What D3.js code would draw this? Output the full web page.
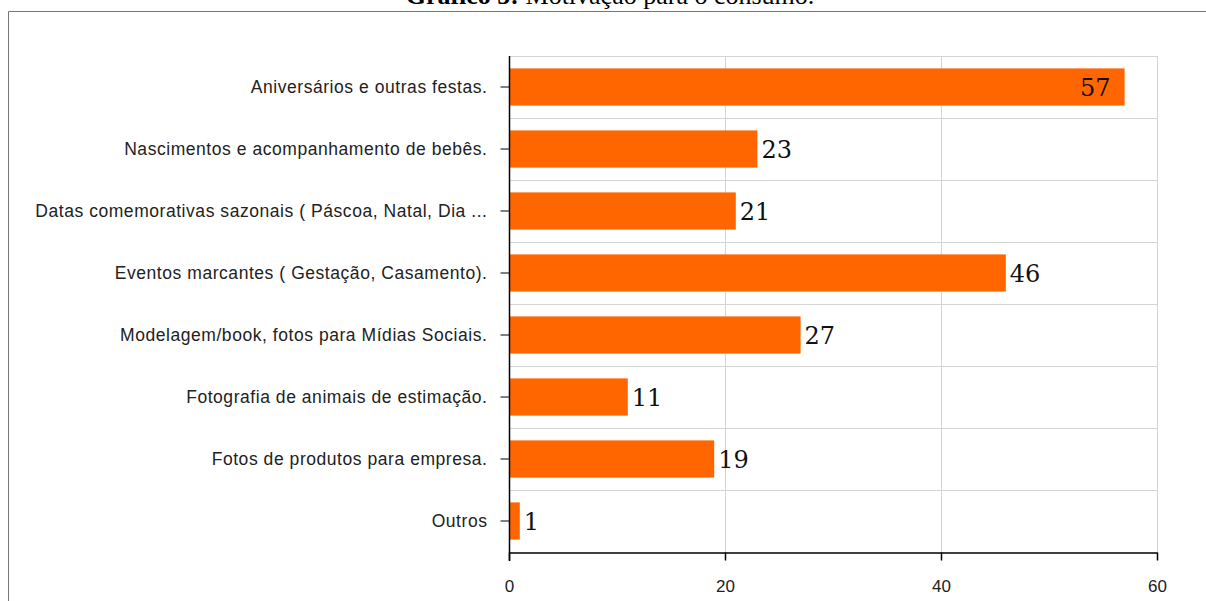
<!DOCTYPE html>
<html>
<head>
<meta charset="utf-8">
<script src="https://cdn.jsdelivr.net/npm/d3@7"></script>
<style>
  body { margin: 0; background: #fff; }
  svg { display: block; }
</style>
</head>
<body>
<div id="chart"></div>
<script>
const categories = [
  'Aniversários e outras festas.',
  'Nascimentos e acompanhamento de bebês.',
  'Datas comemorativas sazonais ( Páscoa, Natal, Dia ...',
  'Eventos marcantes ( Gestação, Casamento).',
  'Modelagem/book, fotos para Mídias Sociais.',
  'Fotografia de animais de estimação.',
  'Fotos de produtos para empresa.',
  'Outros'
];
const values = [57, 23, 21, 46, 27, 11, 19, 1];
const xTicks = [0, 20, 40, 60];

const W = 1206;
const H = 601;
const margin = { top: 56, right: 49, bottom: 49, left: 509 };

const svg = d3.select('#chart').append('svg')
  .attr('width', W)
  .attr('height', H);

// caption, cut off at the top edge like in the source picture
const cap = svg.append('text')
  .attr('x', 610)
  .attr('y', 4)
  .attr('text-anchor', 'middle')
  .style('font-family', '"Liberation Serif", serif')
  .style('font-size', '26px')
  .attr('fill', '#000');
cap.append('tspan').style('font-weight', 'bold').text('Gráfico 5: ');
cap.append('tspan').text('Motivação para o consumo.');

// frame
svg.append('path')
  .attr('d', `M8.5,${H} V11.5 H${W}`)
  .attr('fill', 'none')
  .attr('stroke', '#777')
  .attr('stroke-width', 1);

const x = d3.scaleLinear().domain([0, 60]).range([margin.left, W - margin.right]);
const y = d3.scaleBand().domain(categories).range([margin.top, H - margin.bottom]).paddingInner(0.4).paddingOuter(0.2);

const g = svg.append('g');

// grid
g.selectAll('line.vgrid').data(xTicks.slice(1)).join('line')
  .attr('class', 'vgrid')
  .attr('x1', d => Math.round(x(d)) + 0.5).attr('x2', d => Math.round(x(d)) + 0.5)
  .attr('y1', margin.top).attr('y2', H - margin.bottom)
  .attr('stroke', '#d4d4d4');

g.selectAll('line.hgrid').data(categories).join('line')
  .attr('class', 'hgrid')
  .attr('x1', margin.left).attr('x2', x(60))
  .attr('y1', (d, i) => Math.round(margin.top + i * y.step()) + 0.5)
  .attr('y2', (d, i) => Math.round(margin.top + i * y.step()) + 0.5)
  .attr('stroke', '#d4d4d4');

// bars
g.selectAll('rect.bar').data(values).join('rect')
  .attr('class', 'bar')
  .attr('x', x(0))
  .attr('y', (d, i) => y(categories[i]))
  .attr('width', d => x(d) - x(0))
  .attr('height', y.bandwidth())
  .attr('fill', '#ff6600');

// value labels (the longest bar keeps its label inside)
g.selectAll('text.val').data(values).join('text')
  .attr('class', 'val')
  .attr('x', d => d > 50 ? x(d) - 14 : x(d) + 4)
  .attr('y', (d, i) => y(categories[i]) + y.bandwidth() / 2)
  .attr('dy', '0.36em')
  .attr('text-anchor', d => d > 50 ? 'end' : 'start')
  .style('font-family', '"DejaVu Serif", serif')
  .style('font-size', '24px')
  .attr('fill', '#111')
  .text(d => d);

// x axis
const xAxis = svg.append('g')
  .attr('transform', `translate(0,${H - margin.bottom + 0.5})`)
  .call(d3.axisBottom(x).tickValues(xTicks).tickSize(8).tickSizeOuter(0).tickPadding(19));
xAxis.select('.domain').attr('stroke', '#000').attr('stroke-width', 1.5);
xAxis.selectAll('.tick line').attr('stroke', '#000').attr('stroke-width', 1.5);
xAxis.selectAll('.tick text')
  .style('font-family', '"Liberation Sans", Arial, sans-serif')
  .style('font-size', '17px')
  .attr('fill', '#222');

// y axis
const yAxis = svg.append('g')
  .attr('transform', `translate(${margin.left + 0.5},0)`)
  .call(d3.axisLeft(y).tickSize(9).tickSizeOuter(0).tickPadding(13));
yAxis.select('.domain')
  .attr('d', `M0,${margin.top} V${H - margin.bottom + 9}`)
  .attr('stroke', '#000').attr('stroke-width', 1.5);
yAxis.selectAll('.tick line').attr('stroke', '#000');
yAxis.selectAll('.tick text')
  .style('font-family', '"Liberation Sans", Arial, sans-serif')
  .style('font-size', '17.5px')
  .style('letter-spacing', '0.55px')
  .attr('fill', '#222');
</script>
</body>
</html>
